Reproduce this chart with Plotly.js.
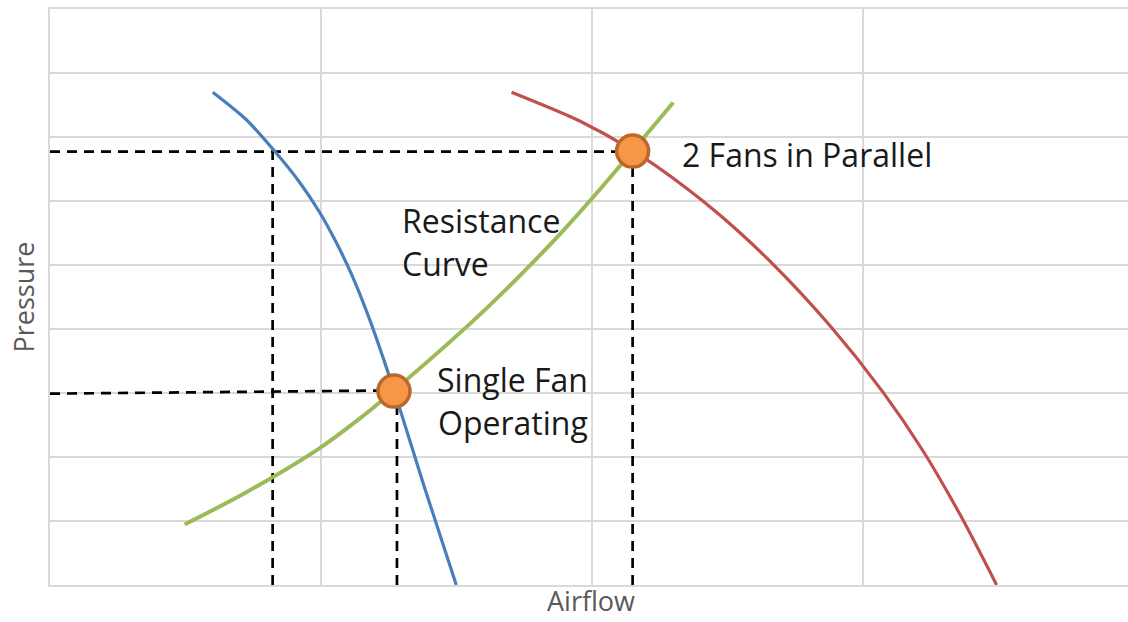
<!DOCTYPE html>
<html>
<head>
<meta charset="utf-8">
<script src="https://cdn.plot.ly/plotly-3.0.1.min.js"></script>
<style>
html,body{margin:0;padding:0;background:#fff;}
#chart{width:1128px;height:622px;}
</style>
</head>
<body>
<div id="chart"></div>
<script>
// Single fan curve (Airflow, Pressure)
const singleFanX = [0.601, 0.725, 0.829, 0.922, 0.996, 1.057, 1.117, 1.180, 1.270, 1.383, 1.500];
const singleFanY = [7.70, 7.27, 6.78, 6.29, 5.82, 5.35, 4.82, 4.15, 3.04, 1.52, 0.00];
// Two fans in parallel curve
const parallelX = [1.704, 1.956, 2.151, 2.350, 2.473, 2.658, 2.880, 3.076, 3.224, 3.360, 3.495];
const parallelY = [7.70, 7.25, 6.79, 6.20, 5.78, 5.06, 4.05, 3.01, 2.09, 1.10, 0.00];
// System resistance curve
const resistX = [0.497, 0.725, 0.996, 1.131, 1.270, 1.550, 1.722, 1.882, 2.030, 2.151, 2.301];
const resistY = [0.945, 1.45, 2.14, 2.56, 3.04, 4.08, 4.78, 5.48, 6.18, 6.78, 7.54];
// Operating points
const opX = [1.270, 2.151];
const opY = [3.03, 6.78];
// Dashed guide lines (each a pair of points)
const guideParallelHX = [0, 2.151];  const guideParallelHY = [6.77, 6.77];
const guideParallelV1X = [0.822, 0.822]; const guideParallelV1Y = [0, 6.77];
const guideParallelV2X = [2.151, 2.151]; const guideParallelV2Y = [0, 6.77];
const guideSingleHX = [0, 1.27];  const guideSingleHY = [2.99, 3.04];
const guideSingleVX = [1.281, 1.281]; const guideSingleVY = [0, 3.02];
// Labels
const labelText = ["2 Fans in Parallel", "Resistance", "Curve", "Single Fan", "Operating"];
const labelX = [2.326, 1.291, 1.291, 1.422, 1.424];
const labelY = [6.72, 5.70, 5.02, 3.21, 2.54];
const xAxisTitle = "Airflow";
const yAxisTitle = "Pressure";

const dashStyle = {color: '#000000', width: 2.7, dash: '10px,7px'};
function guide(x, y) {
  return {x: x, y: y, mode: 'lines', line: dashStyle, hoverinfo: 'skip', showlegend: false};
}
const traces = [
  guide(guideParallelHX, guideParallelHY),
  guide(guideParallelV1X, guideParallelV1Y),
  guide(guideParallelV2X, guideParallelV2Y),
  guide(guideSingleHX, guideSingleHY),
  guide(guideSingleVX, guideSingleVY),
  {x: singleFanX, y: singleFanY, mode: 'lines', name: 'Single Fan',
   line: {color: '#4A7EBB', width: 3.2, shape: 'spline', smoothing: 0.8}},
  {x: parallelX, y: parallelY, mode: 'lines', name: '2 Fans in Parallel',
   line: {color: '#C0504D', width: 3.2, shape: 'spline', smoothing: 0.8}},
  {x: resistX, y: resistY, mode: 'lines', name: 'Resistance Curve',
   line: {color: '#9BBB59', width: 4, shape: 'spline', smoothing: 0.8}},
  {x: opX, y: opY, mode: 'markers', name: 'Operating Points',
   marker: {size: 32, color: '#F79646', line: {color: '#B9692C', width: 3.5}}}
];

const annotations = labelText.map((t, i) => ({
  x: labelX[i], y: labelY[i], xref: 'x', yref: 'y', text: t, showarrow: false,
  xanchor: 'left', yanchor: 'middle',
  font: {family: 'Open Sans, Noto Sans, sans-serif', size: 32, color: '#1a1a1a'}
}));
annotations.push({
  x: 0.5023, y: -0.027, xref: 'paper', yref: 'paper', text: xAxisTitle, showarrow: false,
  xanchor: 'center', yanchor: 'middle', borderpad: 0,
  font: {family: 'Open Sans, Noto Sans, sans-serif', size: 27, color: '#595959'}
});

const layout = {
  width: 1128, height: 622,
  margin: {l: 50, r: 0, t: 9, b: 37, pad: 0},
  paper_bgcolor: '#ffffff', plot_bgcolor: '#ffffff',
  showlegend: false,
  xaxis: {
    range: [0, 3.98], dtick: 1, tick0: 0, showticklabels: false, ticks: '',
    showgrid: true, gridcolor: '#D9D9D9', gridwidth: 2,
    zeroline: false, showline: true, mirror: true, linecolor: '#D9D9D9', linewidth: 2,
    automargin: false, fixedrange: true
  },
  yaxis: {
    range: [0, 9], dtick: 1, tick0: 0, showticklabels: false, ticks: '',
    showgrid: true, gridcolor: '#D9D9D9', gridwidth: 2,
    zeroline: false, showline: true, linecolor: '#D9D9D9', linewidth: 2,
    title: {text: yAxisTitle, standoff: 6, font: {family: 'Open Sans, Noto Sans, sans-serif', size: 27, color: '#595959'}},
    automargin: false, fixedrange: true
  },
  annotations: annotations
};

Plotly.newPlot('chart', traces, layout, {displayModeBar: false, staticPlot: true});
</script>
</body>
</html>
